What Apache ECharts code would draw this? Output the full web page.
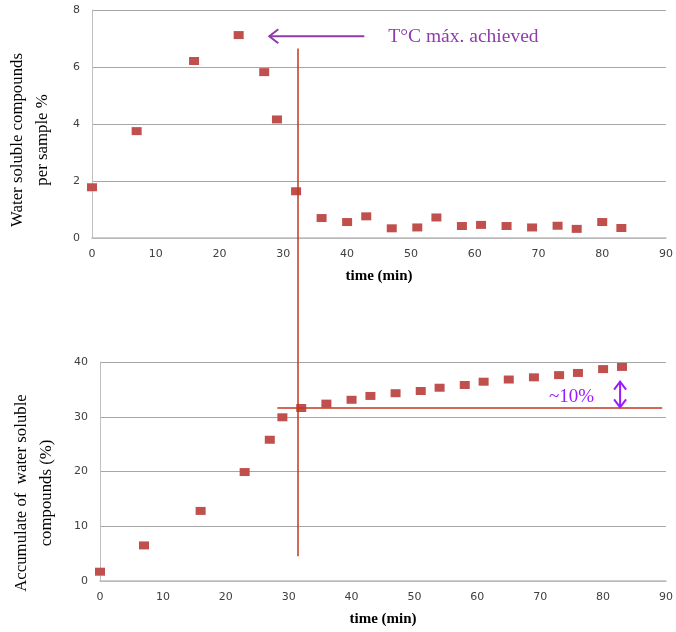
<!DOCTYPE html>
<html>
<head>
<meta charset="utf-8">
<script src="https://cdn.jsdelivr.net/npm/echarts@6/dist/echarts.min.js"></script>
<style>
  html, body { margin: 0; padding: 0; background: #fff; }
  #main { width: 676px; height: 632px; }
</style>
</head>
<body>
<div id="main"></div>
<script>
// sampling times (min)
var times = [0, 7, 16, 23, 27, 29, 32, 36, 40, 43, 47, 51, 54, 58, 61, 65, 69, 73, 76, 80, 83];
// water soluble compounds per sample %
var perSample = [1.78, 3.75, 6.21, 7.12, 5.82, 4.16, 1.64, 0.70, 0.56, 0.76, 0.34, 0.37, 0.72, 0.42, 0.46, 0.42, 0.37, 0.43, 0.32, 0.56, 0.35];
// accumulate of water soluble compounds (%)
var accumulated = [1.7, 6.5, 12.8, 19.9, 25.8, 29.9, 31.6, 32.4, 33.1, 33.8, 34.3, 34.7, 35.3, 35.8, 36.4, 36.8, 37.2, 37.6, 38.0, 38.7, 39.1];

var tempMaxTime = 32.3;     // vertical line (upper chart time scale)
var plateauLevel = 31.6;    // horizontal reference in lower chart

var red = '#C0504D';
var lineRed = '#C0391E';
var purple = '#8E3CAB';
var violet = '#9A1AFF';

function pairs(ys) {
    return times.map(function (t, i) { return [t, ys[i]]; });
}

var tickFont = { color: '#404040', fontFamily: 'DejaVu Sans', fontSize: 11 };

function xAxisOf(idx) {
    return {
        type: 'value', gridIndex: idx, min: 0, max: 90, interval: 10,
        name: 'time (min)', nameLocation: 'middle', nameGap: 31,
        nameTextStyle: { color: '#000', fontFamily: 'Liberation Serif', fontSize: 15, fontWeight: 'bold' },
        axisLine: { lineStyle: { color: '#BFBFBF', width: 1.5 } },
        axisTick: { show: false },
        axisLabel: Object.assign({ margin: 11 }, tickFont),
        splitLine: { show: false }
    };
}

function yAxisOf(idx, max, interval) {
    return {
        type: 'value', gridIndex: idx, min: 0, max: max, interval: interval,
        axisLine: { show: true, lineStyle: { color: '#BFBFBF' } },
        axisTick: { show: false },
        axisLabel: Object.assign({ margin: 12 }, tickFont),
        splitLine: { lineStyle: { color: '#A6A6A6' } }
    };
}

var chart = echarts.init(document.getElementById('main'));
chart.setOption({
    animation: false,
    grid: [
        { left: 92, right: 8, top: 10, height: 228 },
        { left: 100, right: 8, top: 362, height: 219 }
    ],
    xAxis: [xAxisOf(0), xAxisOf(1)],
    yAxis: [yAxisOf(0, 8, 2), yAxisOf(1, 40, 10)],
    series: [
        {
            type: 'scatter', xAxisIndex: 0, yAxisIndex: 0,
            symbol: 'rect', symbolSize: [10, 8],
            itemStyle: { color: red, opacity: 1 },
            data: pairs(perSample)
        },
        {
            type: 'scatter', xAxisIndex: 1, yAxisIndex: 1,
            symbol: 'rect', symbolSize: [10, 8],
            itemStyle: { color: red, opacity: 1 },
            data: pairs(accumulated),
            markLine: {
                silent: true, symbol: 'none', label: { show: false },
                lineStyle: { color: lineRed, width: 1.5, type: 'solid', opacity: 1 },
                data: [[{ coord: [28.2, plateauLevel] }, { coord: [89.4, plateauLevel] }]]
            }
        }
    ]
});

// annotations spanning both plots
var top1 = chart.convertToPixel({ gridIndex: 0 }, [tempMaxTime, 6.65]);
var bot1 = chart.convertToPixel({ gridIndex: 1 }, [tempMaxTime, 4.5]);
var arrA = chart.convertToPixel({ gridIndex: 0 }, [42.7, 7.08]);
var arrB = chart.convertToPixel({ gridIndex: 0 }, [27.8, 7.08]);
var dUp = chart.convertToPixel({ gridIndex: 1 }, [82.7, 36.4]);
var dDn = chart.convertToPixel({ gridIndex: 1 }, [82.7, 31.7]);

var yName = { fill: '#000', font: '16.8px "Liberation Serif"', align: 'center', verticalAlign: 'middle', lineHeight: 25 };

chart.setOption({
    graphic: [
        { type: 'text', x: 30.5, y: 140, rotation: Math.PI / 2,
          style: Object.assign({ text: 'Water soluble compounds\nper sample %' }, yName) },
        { type: 'text', x: 34.5, y: 493, rotation: Math.PI / 2,
          style: Object.assign({ text: 'Accumulate of  water soluble\ncompounds (%)' }, yName) },
        { type: 'line', shape: { x1: top1[0], y1: top1[1], x2: top1[0], y2: bot1[1] },
          style: { stroke: lineRed, lineWidth: 1.5 }, z: 10 },
        { type: 'line', shape: { x1: arrA[0], y1: arrA[1], x2: arrB[0], y2: arrB[1] },
          style: { stroke: purple, lineWidth: 2 } },
        { type: 'polyline', shape: { points: [[arrB[0] + 9, arrB[1] - 7], [arrB[0], arrB[1]], [arrB[0] + 9, arrB[1] + 7]] },
          style: { stroke: purple, lineWidth: 2, fill: null } },
        { type: 'text', x: arrA[0] + 24, y: arrA[1] + 1,
          style: { text: 'T°C máx. achieved', fill: purple, font: '19.5px "Liberation Serif"', verticalAlign: 'middle' } },
        { type: 'line', shape: { x1: dUp[0], y1: dUp[1], x2: dDn[0], y2: dDn[1] },
          style: { stroke: violet, lineWidth: 2 } },
        { type: 'polyline', shape: { points: [[dUp[0] - 6, dUp[1] + 8], [dUp[0], dUp[1]], [dUp[0] + 6, dUp[1] + 8]] },
          style: { stroke: violet, lineWidth: 2, fill: null } },
        { type: 'polyline', shape: { points: [[dDn[0] - 6, dDn[1] - 8], [dDn[0], dDn[1]], [dDn[0] + 6, dDn[1] - 8]] },
          style: { stroke: violet, lineWidth: 2, fill: null } },
        { type: 'text', x: 549, y: 397,
          style: { text: '~10%', fill: violet, font: '19px "Liberation Serif"', verticalAlign: 'middle' } }
    ]
});
</script>
</body>
</html>
